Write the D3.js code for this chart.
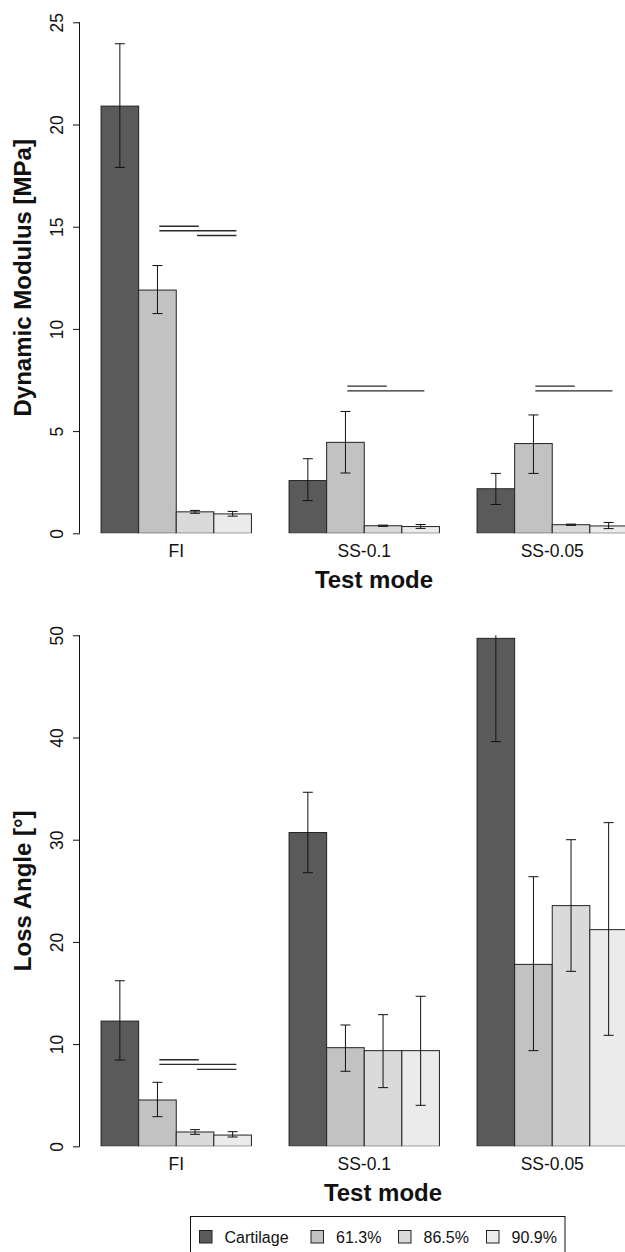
<!DOCTYPE html>
<html>
<head>
<meta charset="utf-8">
<script src="https://cdn.jsdelivr.net/npm/d3@7"></script>
<style>
  body { margin: 0; background: #fff; }
  svg { display: block; font-family: "Liberation Sans", Arial, Helvetica, sans-serif; }
</style>
</head>
<body>
<div id="chart"></div>
<script>
var width = 625,
    height = 1252;

// data
var modes = ['FI', 'SS-0.1', 'SS-0.05'];
var series = ['Cartilage', '61.3%', '86.5%', '90.9%'];
var colors = ['#5a5a5a', '#c2c2c2', '#dadada', '#ebebeb'];

// dynamic modulus [MPa], one row per series, one value per mode
var modulusMean = [
    [20.9, 2.58, 2.18],
    [11.9, 4.45, 4.39],
    [1.05, 0.37, 0.42],
    [0.95, 0.33, 0.36]
];
var modulusLo = [
    [17.9, 1.6, 1.41],
    [10.75, 2.95, 2.93],
    [0.98, 0.34, 0.39],
    [0.84, 0.24, 0.23]
];
var modulusHi = [
    [23.95, 3.65, 2.93],
    [13.1, 5.96, 5.79],
    [1.12, 0.40, 0.45],
    [1.07, 0.43, 0.53]
];
// significance bars: [mode, fromSeries, toSeries, value]
var modulusSig = [
    [0, 1, 2, 15.02], [0, 1, 3, 14.8], [0, 2, 3, 14.57],
    [1, 1, 2, 7.2], [1, 1, 3, 6.97],
    [2, 1, 2, 7.2], [2, 1, 3, 6.97]
];

// loss angle [deg]
var angleMean = [
    [12.25, 30.7, 49.7],
    [4.53, 9.65, 17.8],
    [1.4, 9.36, 23.55],
    [1.1, 9.36, 21.2]
];
var angleLo = [
    [8.44, 26.77, 39.6],
    [2.9, 7.34, 9.36],
    [1.17, 5.74, 17.12],
    [0.91, 4.01, 10.86]
];
var angleHi = [
    [16.2, 34.64, 59.8],
    [6.26, 11.87, 26.38],
    [1.63, 12.88, 30.0],
    [1.43, 14.68, 31.67]
];
var angleSig = [
    [0, 1, 2, 8.47], [0, 1, 3, 8.02], [0, 2, 3, 7.53]
];

var modulusTicks = [0, 5, 10, 15, 20, 25];
var angleTicks = [0, 10, 20, 30, 40, 50];

var svg = d3.select('#chart')
    .append('svg')
    .attr('width', width)
    .attr('height', height);

// bar units: bar i of mode g starts at 1 + g*5 + i
var x = d3.scaleLinear().domain([0.44, 15.56]).range([80, 648.5]);

function barStart(g, i) { return 1 + g * 5 + i; }

function drawPanel(opts) {
    var y = d3.scaleLinear().domain(opts.domain).range(opts.range);
    var clipId = 'clip' + opts.id;

    svg.append('clipPath').attr('id', clipId)
        .append('rect')
        .attr('x', x.range()[0]).attr('y', opts.range[1])
        .attr('width', x.range()[1] - x.range()[0])
        .attr('height', opts.range[0] - opts.range[1]);

    var g = svg.append('g').attr('clip-path', 'url(#' + clipId + ')');

    var bars = [];
    opts.mean.forEach(function (row, s) {
        row.forEach(function (v, m) {
            bars.push({ s: s, m: m, v: v, lo: opts.lo[s][m], hi: opts.hi[s][m] });
        });
    });

    g.selectAll('.bar')
        .data(bars)
        .enter()
        .append('rect')
        .attr('class', 'bar')
        .attr('x', d => x(barStart(d.m, d.s)))
        .attr('y', d => y(d.v))
        .attr('width', x(2) - x(1))
        .attr('height', d => y(0) - y(d.v))
        .attr('fill', d => colors[d.s])
        .attr('stroke', '#222')
        .attr('stroke-width', 1);

    var eb = g.selectAll('.err')
        .data(bars)
        .enter()
        .append('g')
        .attr('class', 'err')
        .attr('stroke', '#111')
        .attr('stroke-width', 1);
    eb.append('line')
        .attr('x1', d => x(barStart(d.m, d.s) + 0.5))
        .attr('x2', d => x(barStart(d.m, d.s) + 0.5))
        .attr('y1', d => y(d.lo))
        .attr('y2', d => y(d.hi));
    ['lo', 'hi'].forEach(function (k) {
        eb.append('line')
            .attr('x1', d => x(barStart(d.m, d.s) + 0.5) - 5)
            .attr('x2', d => x(barStart(d.m, d.s) + 0.5) + 5)
            .attr('y1', d => y(d[k]))
            .attr('y2', d => y(d[k]));
    });

    g.selectAll('.sig')
        .data(opts.sig)
        .enter()
        .append('line')
        .attr('class', 'sig')
        .attr('x1', d => x(barStart(d[0], d[1]) + 0.55))
        .attr('x2', d => x(barStart(d[0], d[2]) + 0.6))
        .attr('y1', d => y(d[3]))
        .attr('y2', d => y(d[3]))
        .attr('stroke', '#2a2a2a')
        .attr('stroke-width', 1.4);

    // y axis, labels rotated as in R
    var axis = svg.append('g')
        .attr('transform', 'translate(' + x.range()[0] + ',0)')
        .call(d3.axisLeft(y).tickValues(opts.ticks).tickSize(7).tickFormat(d3.format('d')));
    axis.select('.domain').attr('stroke', '#111').attr('d',
        'M-0.5,' + y(opts.ticks[0]) + 'V' + y(opts.ticks[opts.ticks.length - 1]));
    axis.selectAll('.tick line').attr('stroke', '#111');
    axis.selectAll('.tick text')
        .attr('x', null).attr('dy', null)
        .attr('transform', 'translate(-17,0) rotate(-90)')
        .attr('text-anchor', 'middle')
        .attr('fill', '#111')
        .style('font-size', '17.5px');

    // mode labels
    svg.selectAll('.mode' + opts.id)
        .data(modes)
        .enter()
        .append('text')
        .attr('x', (d, i) => x(barStart(i, 2)))
        .attr('y', opts.range[0] + 23.5)
        .attr('text-anchor', 'middle')
        .attr('fill', '#111')
        .style('font-size', '17.5px')
        .text(d => d);

    svg.append('text')
        .attr('x', opts.titleX)
        .attr('y', opts.range[0] + 55)
        .attr('text-anchor', 'middle')
        .attr('fill', '#111')
        .style('font-size', '24px')
        .style('font-weight', 'bold')
        .text('Test mode');

    svg.append('text')
        .attr('transform', 'translate(31,' + (opts.range[0] + opts.range[1]) / 2 + ') rotate(-90)')
        .attr('text-anchor', 'middle')
        .attr('fill', '#111')
        .style('font-size', '24px')
        .style('font-weight', 'bold')
        .text(opts.ylabel);
}

drawPanel({
    id: 'top', domain: [0, 25], range: [533.3, 22.3], ticks: modulusTicks,
    mean: modulusMean, lo: modulusLo, hi: modulusHi, sig: modulusSig,
    ylabel: 'Dynamic Modulus [MPa]', titleX: 374
});

drawPanel({
    id: 'bot', domain: [0, 50], range: [1146.3, 635.3], ticks: angleTicks,
    mean: angleMean, lo: angleLo, hi: angleHi, sig: angleSig,
    ylabel: 'Loss Angle [°]', titleX: 383
});

// legend
var legend = svg.append('g');
legend.append('rect')
    .attr('x', 190.5).attr('y', 1216.5)
    .attr('width', 374.5).attr('height', 60)
    .attr('fill', 'none').attr('stroke', '#111');
var legendX = [199.5, 311, 398.5, 486.5];
var item = legend.selectAll('.item')
    .data(series)
    .enter()
    .append('g')
    .attr('transform', (d, i) => 'translate(' + legendX[i] + ',1230.5)');
item.append('rect')
    .attr('width', 12.5).attr('height', 12.5)
    .attr('fill', (d, i) => colors[i])
    .attr('stroke', '#222');
item.append('text')
    .attr('x', 25)
    .attr('y', 12.5)
    .attr('fill', '#111')
    .style('font-size', '16px')
    .text(d => d);
</script>
</body>
</html>
